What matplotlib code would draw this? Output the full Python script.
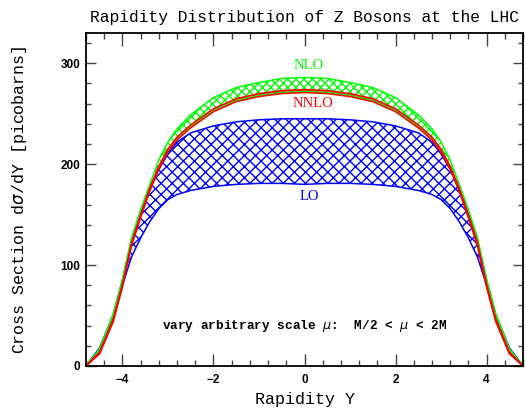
import matplotlib
matplotlib.use("Agg")
import matplotlib.pyplot as plt
from matplotlib.ticker import MultipleLocator

# rapidity grid and scale-variation bands (picobarns)
rapidity = [-4.8, -4.5, -4.2, -4.0, -3.8, -3.6, -3.4, -3.2, -3.0, -2.8, -2.5, -2.0, -1.5, -1.0, -0.5,
            0.0, 0.5, 1.0, 1.5, 2.0, 2.5, 2.8, 3.0, 3.2, 3.4, 3.6, 3.8, 4.0, 4.2, 4.5, 4.8]

lo_upper = [0, 18, 51, 85, 124, 150, 176, 195, 210, 222, 231, 238, 242, 244, 245,
            245, 245, 244, 242, 238, 231, 222, 210, 195, 176, 150, 124, 85, 51, 18, 0]
lo_lower = [0, 17, 48, 80, 108, 127, 143, 156, 165, 170, 174, 178, 180, 181, 181,
            180, 181, 181, 180, 178, 174, 170, 165, 156, 143, 127, 108, 80, 48, 17, 0]

nlo_upper = [0, 17, 52, 86, 127, 155, 180, 204, 222, 235, 249, 266, 276, 281, 285,
             286, 285, 281, 276, 266, 249, 235, 222, 204, 180, 155, 127, 86, 52, 17, 0]
nlo_lower = [0, 16, 50, 83, 123, 150, 175, 197, 214, 226, 238, 253, 263, 268, 271,
             272, 271, 268, 263, 253, 238, 226, 214, 197, 175, 150, 123, 83, 50, 16, 0]

nnlo_upper = [0, 14, 47, 81, 122, 150, 176, 198, 215, 227, 239, 255, 265, 270, 273,
              274, 273, 270, 265, 255, 239, 227, 215, 198, 176, 150, 122, 81, 47, 14, 0]
nnlo_lower = [0, 12, 44, 78, 119, 147, 173, 195, 212, 224, 236, 252, 262, 267, 270,
              271, 270, 267, 262, 252, 236, 224, 212, 195, 173, 147, 119, 78, 44, 12, 0]

BLUE = "#0000ff"
GREEN = "#00ff00"
RED = "#ff0000"

plt.rcParams["hatch.linewidth"] = 1.0

fig = plt.figure(figsize=(5.26, 4.08), dpi=100)
ax = fig.add_axes([0.1635, 0.103, 0.8308, 0.816])

# LO band
ax.fill_between(rapidity, lo_lower, lo_upper, facecolor="none", edgecolor=BLUE,
                hatch="xxx", linewidth=0)
ax.plot(rapidity, lo_upper, color=BLUE, lw=1.1)
ax.plot(rapidity, lo_lower, color=BLUE, lw=1.1)

# NLO band
ax.fill_between(rapidity, nlo_lower, nlo_upper, facecolor="none", edgecolor=GREEN,
                hatch="xxxx", linewidth=0)
ax.plot(rapidity, nlo_upper, color=GREEN, lw=1.1)
ax.plot(rapidity, nlo_lower, color=GREEN, lw=1.1)

# NNLO band
ax.fill_between(rapidity, nnlo_lower, nnlo_upper, facecolor=RED, alpha=0.6, linewidth=0)
ax.plot(rapidity, nnlo_upper, color=RED, lw=1.1)
ax.plot(rapidity, nnlo_lower, color=RED, lw=1.1)

ax.set_xlim(-4.8, 4.8)
ax.set_ylim(0, 330)

ax.xaxis.set_major_locator(MultipleLocator(2))
ax.xaxis.set_minor_locator(MultipleLocator(0.4))
ax.yaxis.set_major_locator(MultipleLocator(100))
ax.yaxis.set_minor_locator(MultipleLocator(20))
ax.tick_params(which="both", direction="in", top=True, right=True, color="#444444")
ax.tick_params(axis="x", which="major", length=9, width=1)
ax.tick_params(axis="x", which="minor", length=4.5, width=1)
ax.tick_params(axis="y", which="major", length=7, width=1)
ax.tick_params(axis="y", which="minor", length=3.5, width=1)
for spine in ax.spines.values():
    spine.set_linewidth(1.3)

for lab in ax.get_xticklabels() + ax.get_yticklabels():
    lab.set_fontfamily("Liberation Sans")
    lab.set_fontweight("bold")
    lab.set_fontsize(8.5)
ax.xaxis.set_tick_params(pad=6)
ax.yaxis.set_tick_params(pad=4)

mono = "Liberation Mono"
ax.set_title("Rapidity Distribution of Z Bosons at the LHC", fontfamily=mono,
             fontsize=11.7, pad=8)
ax.set_xlabel("Rapidity Y", fontfamily=mono, fontsize=12, labelpad=4)
ax.set_ylabel(r"Cross Section d$\sigma$/dY [picobarns]", fontfamily=mono,
              fontsize=12, labelpad=23)

ax.text(0.09, 298, "NLO", color=GREEN, fontfamily="Liberation Serif", fontsize=10.5,
        ha="center", va="center")
ax.text(0.18, 260, "NNLO", color=RED, fontfamily="Liberation Serif", fontsize=10.5,
        ha="center", va="center")
ax.text(0.1, 168, "LO", color=BLUE, fontfamily="Liberation Serif", fontsize=10.5,
        ha="center", va="center")
ax.text(0.0, 40, r"vary arbitrary scale $\mu$:  M/2 < $\mu$ < 2M", fontfamily=mono,
        fontweight="bold", fontsize=9.2, ha="center", va="center")

fig.savefig("out.png", dpi=100)
